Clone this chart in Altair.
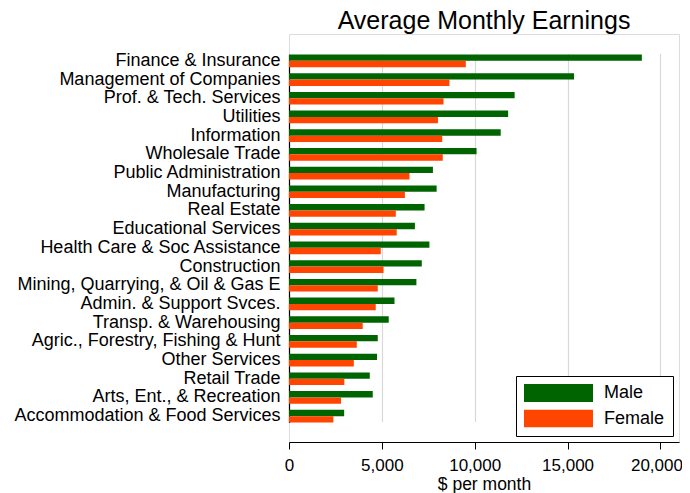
import altair as alt
import pandas as pd

industries = [
    "Finance & Insurance",
    "Management of Companies",
    "Prof. & Tech. Services",
    "Utilities",
    "Information",
    "Wholesale Trade",
    "Public Administration",
    "Manufacturing",
    "Real Estate",
    "Educational Services",
    "Health Care & Soc Assistance",
    "Construction",
    "Mining, Quarrying, & Oil & Gas E",
    "Admin. & Support Svces.",
    "Transp. & Warehousing",
    "Agric., Forestry, Fishing & Hunt",
    "Other Services",
    "Retail Trade",
    "Arts, Ent., & Recreation",
    "Accommodation & Food Services",
]
male = [19000, 15350, 12150, 11800, 11400, 10100, 7750, 7950, 7300, 6780,
        7560, 7150, 6860, 5680, 5370, 4780, 4740, 4350, 4510, 2970]
female = [9520, 8640, 8320, 8020, 8250, 8280, 6490, 6240, 5750, 5800,
          4940, 5090, 4780, 4670, 3970, 3650, 3490, 2980, 2800, 2390]
sexes = ["Male", "Female"]
colors = ["#006400", "#FF4500"]
x_ticks = [0, 5000, 10000, 15000, 20000]

rows = []
for i, ind in enumerate(industries):
    rows.append({"Industry": ind, "Sex": "Male", "Earnings": male[i]})
    rows.append({"Industry": ind, "Sex": "Female", "Earnings": female[i]})
df = pd.DataFrame(rows)

FONT = "Liberation Sans"

chart = (
    alt.Chart(df)
    .mark_bar()
    .encode(
        x=alt.X(
            "Earnings:Q",
            scale=alt.Scale(domain=[0, 21000], nice=False, zero=True),
            axis=alt.Axis(
                title="$ per month",
                values=x_ticks,
                format=",d",
                grid=True,
                gridColor="#d9d9d9",
                gridWidth=1.2,
                domainColor="black",
                domainWidth=1.2,
                tickColor="black",
                tickSize=7,
                tickWidth=1,
                labelFontSize=17,
                labelFont=FONT,
                labelColor="black",
                labelPadding=8,
                labelFlush=False,
                labelOffset={"condition": {"test": "datum.value == 20000", "value": -4}, "value": 0},
                titleFontSize=17.5,
                titleFont=FONT,
                titleFontWeight="normal",
                titleColor="black",
                titlePadding=2,
            ),
        ),
        y=alt.Y(
            "Industry:N",
            sort=industries,
            scale=alt.Scale(range=[20.5, 388.5], paddingInner=0.32, paddingOuter=0),
            axis=alt.Axis(
                title=None,
                ticks=False,
                grid=False,
                domainColor="black",
                domainWidth=1.2,
                labelFontSize=18,
                labelFont=FONT,
                labelColor="black",
                labelPadding=9,
                labelLimit=400,
            ),
        ),
        yOffset=alt.YOffset(
            "Sex:N",
            sort=sexes,
            scale=alt.Scale(paddingInner=0, paddingOuter=0),
        ),
        color=alt.Color(
            "Sex:N",
            sort=sexes,
            scale=alt.Scale(domain=sexes, range=colors),
            legend=alt.Legend(
                title=None,
                orient="bottom-right",
                offset=6,
                strokeColor="black",
                fillColor="white",
                padding=8,
                symbolType="M-1,-0.26L1,-0.26L1,0.26L-1,0.26Z",
                symbolSize=4761,
                symbolStrokeWidth=0,
                clipHeight=18,
                labelFontSize=18,
                labelFont=FONT,
                labelColor="black",
                labelOffset=11,
                rowPadding=7.5,
            ),
        ),
    )
    .properties(
        width=390,
        height=408,
        title=alt.TitleParams(
            text="Average Monthly Earnings",
            fontSize=25,
            font=FONT,
            fontWeight="normal",
            color="black",
            anchor="middle",
            frame="group",
            offset=0,
        ),
        autosize=alt.AutoSizeParams(type="none"),
        padding={"left": 281, "top": 26, "right": 3, "bottom": 51},
    )
    .configure_view(stroke="black", strokeWidth=1.2)
    .configure(background="white")
)

chart.save("out.html", embed_options={"renderer": "svg", "actions": False})
